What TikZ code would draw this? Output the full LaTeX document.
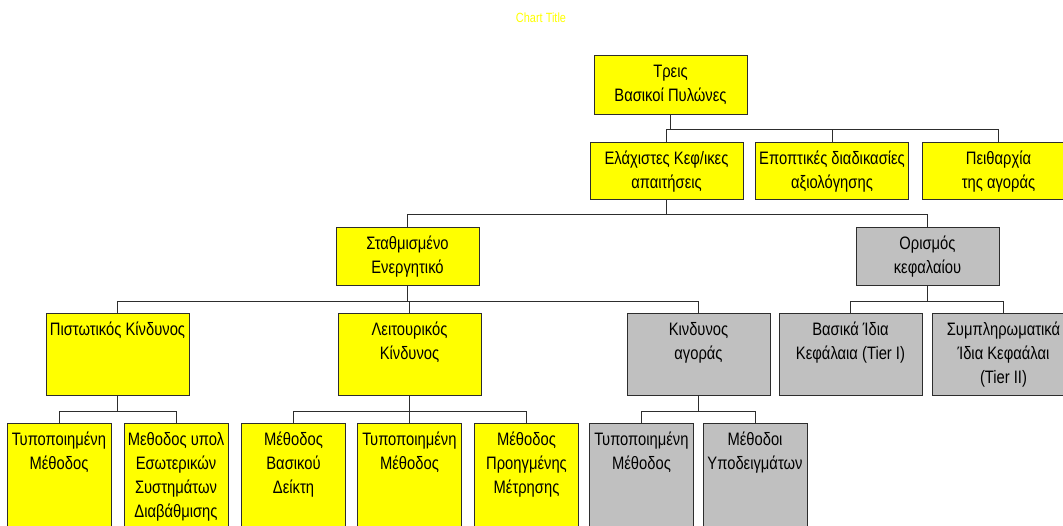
\documentclass[tikz,border=0pt]{standalone}
\usepackage{fontspec}
\setmainfont{Liberation Sans}[FakeStretch=0.82]
\definecolor{boxyellow}{RGB}{255,255,0}
\definecolor{boxgrey}{RGB}{192,192,192}
\definecolor{edgegrey}{RGB}{45,45,45}
\newcommand{\boxtext}[3]{\parbox[c][#2][t]{#1}{\centering\rule{0pt}{17pt}#3}}
\tikzset{
	orgbox/.style={draw=edgegrey, line width=0.75pt, inner sep=0pt, font=\fontsize{13.5}{18}\selectfont},
	yelbox/.style={orgbox, fill=boxyellow},
	grybox/.style={orgbox, fill=boxgrey},
	link/.style={draw=edgegrey, line width=0.75pt},
}

\begin{document}
\begin{tikzpicture}[x=0.75pt, y=-0.75pt]
			%%%%% START %%%%%
			\clip (0, 0) rectangle (1063, 525);
			
			\node[text=boxyellow, font=\fontsize{10}{12}\selectfont] (title) at (541, 18) {Chart Title};
			
			% top
			\node[yelbox] (root) at (670.5, 84.5) {\boxtext{114.75pt}{44.25pt}{Τρεις\\Βασικοί Πυλώνες}};
			
			% pillars
			\node[yelbox] (minreq) at (666.5, 170.5) {\boxtext{114.75pt}{42.75pt}{Ελάχιστες Κεφ/ικες\\απαιτήσεις}};
			\node[yelbox] (superv) at (832, 170.5) {\boxtext{114.75pt}{42.75pt}{Εποπτικές διαδικασίες\\αξιολόγησης}};
			\node[yelbox] (market) at (998.5, 170.5) {\boxtext{114.75pt}{42.75pt}{Πειθαρχία\\της αγοράς}};
			
			\node[yelbox] (rwa) at (407.5, 256) {\boxtext{107.25pt}{43.5pt}{Σταθμισμένο\\Ενεργητικό}};
			\node[grybox] (capdef) at (927.5, 256) {\boxtext{107.25pt}{43.5pt}{Ορισμός\\κεφαλαίου}};
			
			% risks and capital
			\node[yelbox] (credit) at (117.5, 354) {\boxtext{107.25pt}{61.5pt}{Πιστωτικός Κίνδυνος}};
			\node[yelbox] (oper) at (409.5, 354) {\boxtext{107.25pt}{61.5pt}{Λειτουρικός\\Κίνδυνος}};
			\node[grybox] (mrisk) at (698.5, 354) {\boxtext{107.25pt}{61.5pt}{Κινδυνος\\αγοράς}};
			\node[grybox] (tierone) at (850.5, 354) {\boxtext{107.25pt}{61.5pt}{Βασικά Ίδια\\Κεφάλαια (Tier I)}};
			\node[grybox] (tiertwo) at (1003.5, 354) {\boxtext{107.25pt}{61.5pt}{Συμπληρωματικά\\Ίδια Κεφαάλαι\\(Tier II)}};
			
			% methods
			\node[yelbox] (crstd) at (59, 488) {\boxtext{78pt}{97.5pt}{Τυποποιημένη\\Μέθοδος}};
			\node[yelbox] (irb) at (176, 488) {\boxtext{78pt}{97.5pt}{Μεθοδος υπολ\\Εσωτερικών\\Συστημάτων\\Διαβάθμισης}};
			\node[yelbox] (bia) at (293.5, 488) {\boxtext{78pt}{97.5pt}{Μέθοδος\\Βασικού\\Δείκτη}};
			\node[yelbox] (opstd) at (409.5, 488) {\boxtext{78pt}{97.5pt}{Τυποποιημένη\\Μέθοδος}};
			\node[yelbox] (ama) at (526.5, 488) {\boxtext{78pt}{97.5pt}{Μέθοδος\\Προηγμένης\\Μέτρησης}};
			\node[grybox] (mrstd) at (641.5, 488) {\boxtext{78pt}{97.5pt}{Τυποποιημένη\\Μέθοδος}};
			\node[grybox] (imm) at (755, 488) {\boxtext{78pt}{97.5pt}{Μέθοδοι\\Υποδειγμάτων}};
			
			% connectors
			\foreach \kid in {minreq, superv, market}
				\draw[link] (root.south) -- ++(0, 14.5) -| (\kid.north);
			\foreach \kid in {rwa, capdef}
				\draw[link] (minreq.south) -- ++(0, 14.5) -| (\kid.north);
			\foreach \kid in {credit, oper, mrisk}
				\draw[link] (rwa.south) -- ++(0, 15.5) -| (\kid.north);
			\foreach \kid in {tierone, tiertwo}
				\draw[link] (capdef.south) -- ++(0, 15.5) -| (\kid.north);
			\foreach \kid in {crstd, irb}
				\draw[link] (credit.south) -- ++(0, 15.5) -| (\kid.north);
			\foreach \kid in {bia, opstd, ama}
				\draw[link] (oper.south) -- ++(0, 15.5) -| (\kid.north);
			\foreach \kid in {mrstd, imm}
				\draw[link] (mrisk.south) -- ++(0, 15.5) -| (\kid.north);
			
			%%%%% END %%%%%
\end{tikzpicture}
\end{document}
